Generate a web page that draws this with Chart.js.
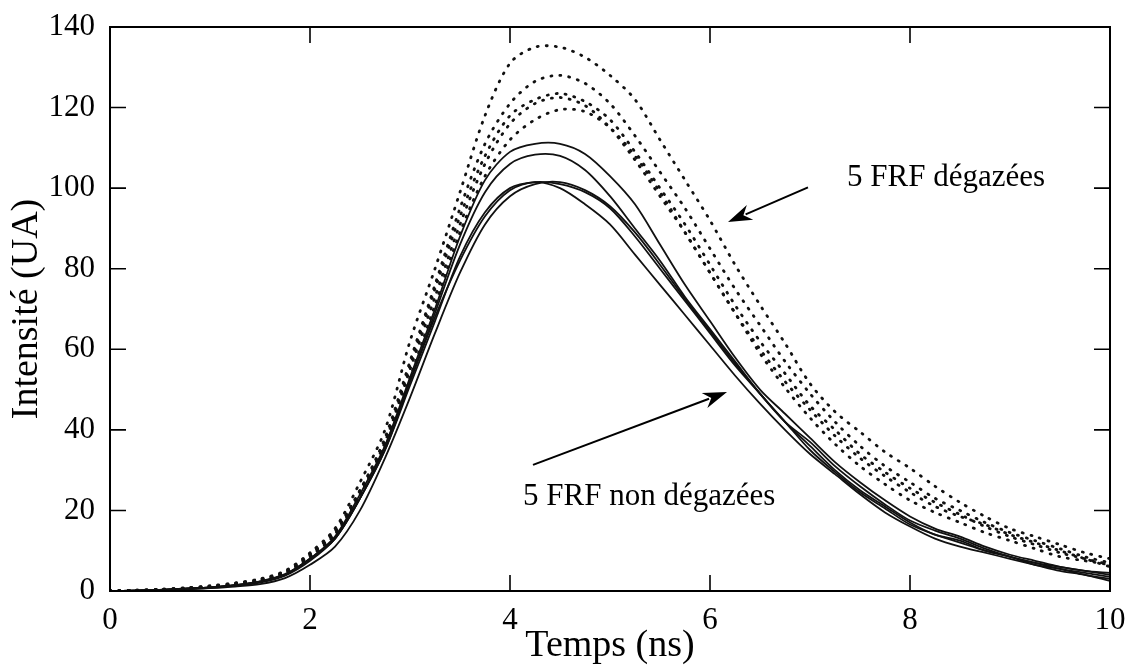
<!DOCTYPE html>
<html>
<head>
<meta charset="utf-8">
<script src="https://cdn.jsdelivr.net/npm/chart.js@4.4.1/dist/chart.umd.min.js"></script>
<style>
  html, body { margin: 0; padding: 0; background: #fff; }
  canvas { display: block; }
</style>
</head>
<body>
<canvas id="c" width="1135" height="669"></canvas>
<script>
/* Intensité vs temps — 5 FRF dégazées (pointillés) / 5 FRF non dégazées (traits pleins) */

// time axis (ns), step 0.25
var TIMES = [0, 0.25, 0.5, 0.75, 1, 1.25, 1.5, 1.75, 2, 2.25, 2.5, 2.75, 3, 3.25, 3.5, 3.75,
  4, 4.25, 4.5, 4.75, 5, 5.25, 5.5, 5.75, 6, 6.25, 6.5, 6.75, 7, 7.25, 7.5, 7.75,
  8, 8.25, 8.5, 8.75, 9, 9.25, 9.5, 9.75, 10];

// dégazées (dotted)
var DEG_1 = [0, 0.2, 0.4, 0.8, 1.3, 2.0, 3.0, 5.0,
  9.5, 15.5, 27, 40, 62, 80, 99, 118, 131, 135, 135, 132.5, 128, 122, 112, 102, 92, 81, 71, 61.5,
  51.5, 44.5, 39.5, 34.5, 30.5, 26, 22, 18.5, 15.5, 13.5, 11.5, 9.5, 8];
var DEG_2 = [0, 0.2, 0.4, 0.7, 1.2, 1.9, 2.9, 4.8,
  9, 15, 25, 38, 57, 76, 95, 111, 121, 126.5, 128, 126, 121, 113, 104, 95, 85, 75, 66, 57,
  49, 42, 36, 31, 27, 23, 20, 17, 14.5, 12.5, 10.5, 8.5, 7];
var DEG_3 = [0, 0.1, 0.3, 0.7, 1.1, 1.8, 2.8, 4.7,
  9, 14.5, 25, 37, 56, 75, 93, 108, 118, 122, 123.5, 121.5, 117, 109, 100, 91, 81, 71, 62, 54,
  46, 40, 34, 29.5, 25.5, 22, 19, 16, 13.5, 11.5, 9.5, 8, 6.5];
var DEG_4 = [0, 0.1, 0.3, 0.6, 1.0, 1.7, 2.7, 4.5,
  8.5, 14, 24, 37, 55, 73, 91, 106, 116, 121, 122.5, 120.5, 115, 107, 98, 89, 79, 69, 60, 52,
  45, 38.5, 33, 28.5, 24.5, 21, 18.5, 16.5, 14, 12, 10, 8, 6];
var DEG_5 = [0, 0.1, 0.3, 0.6, 1.0, 1.6, 2.6, 4.4,
  8.5, 14, 24, 36, 53, 71, 89, 103, 112, 117, 119.5, 119, 115, 108, 99, 89, 79, 69, 59, 50.5,
  43, 36.5, 31, 26.5, 22.5, 19.5, 17, 14.5, 12.5, 10.5, 8.5, 7.5, 6.5];

// non dégazées (solid)
var NON_1 = [0, 0.1, 0.3, 0.6, 0.9, 1.4, 2.3, 4.0,
  8, 13, 23, 36, 53, 70, 88, 102, 109, 111, 111, 108.5, 103, 96, 86, 76, 67, 58, 50, 44,
  38, 32, 27, 22.5, 18.5, 15.5, 13.5, 11, 9, 7.5, 6, 5, 4.5];
var NON_2 = [0, 0.1, 0.3, 0.6, 0.9, 1.4, 2.3, 4.0,
  8, 13, 23, 35, 52, 69, 86, 99, 106, 108.3, 108, 104.5, 98, 90, 82, 73, 65, 57, 49, 42,
  37, 31, 26, 21.5, 17.5, 15, 13, 10.5, 8.5, 7, 6, 5, 4];
var NON_3 = [0, 0.1, 0.2, 0.5, 0.8, 1.3, 2.1, 3.8,
  7.5, 13, 23, 35, 51, 67, 83, 94, 100, 101.5, 101, 99, 95, 88, 80, 72, 64, 56, 49, 42,
  36, 30, 25, 21, 17, 14, 12.5, 10, 8.5, 7, 5.5, 4.5, 3.5];
var NON_4 = [0, 0.1, 0.3, 0.6, 0.9, 1.5, 2.4, 4.2,
  8, 13.5, 24, 36, 52, 68, 82, 93, 99.5, 101.5, 100, 96, 91, 83.5, 76, 68.5, 61, 53.5, 46.5, 40,
  34, 29, 24, 19.5, 16, 13, 11, 9.5, 8, 6.5, 5, 4, 2.5];
var NON_5 = [0, 0.1, 0.2, 0.4, 0.7, 1.1, 1.7, 3.2,
  6.5, 11, 20, 33, 48, 64, 79, 91, 98, 101, 101.5, 99.5, 95.5, 89, 81, 72.5, 64.5, 56.5, 49, 42,
  35, 29.5, 24.5, 20.5, 16.5, 14, 12, 10, 8.5, 6.5, 5.5, 4, 3];

var X_TICKS = [0, 2, 4, 6, 8, 10];
var Y_TICKS = [0, 20, 40, 60, 80, 100, 120, 140];

// annotations, in data units: [x, y]
var NOTE_DEG = { text: '5 FRF dégazées', at: [7.37, 100.5], from: [6.98, 100.2], to: [6.18, 91.6] };
var NOTE_NON = { text: '5 FRF non dégazées', at: [4.13, 21.3], from: [4.23, 31.3], to: [6.17, 49.4] };

var SERIF = '"Liberation Serif", "DejaVu Serif", serif';

function pts(ys) {
  return ys.map(function (y, i) { return { x: TIMES[i], y: y }; });
}

function dotted(ys) {
  return {
    data: pts(ys), borderColor: '#111', borderWidth: 2.8,
    borderDash: [1, 8], borderCapStyle: 'round', pointRadius: 0, tension: 0.3
  };
}
function solid(ys) {
  return { data: pts(ys), borderColor: '#111', borderWidth: 1.8, pointRadius: 0, tension: 0.3 };
}

function arrow(ctx, x1, y1, x2, y2) {
  var ang = Math.atan2(y2 - y1, x2 - x1);
  var hl = 24, hw = 8;
  ctx.beginPath();
  ctx.moveTo(x1, y1);
  ctx.lineTo(x2 - Math.cos(ang) * hl * 0.8, y2 - Math.sin(ang) * hl * 0.8);
  ctx.stroke();
  ctx.beginPath();
  ctx.moveTo(x2, y2);
  ctx.lineTo(x2 - Math.cos(ang) * hl + Math.sin(ang) * hw, y2 - Math.sin(ang) * hl - Math.cos(ang) * hw);
  ctx.lineTo(x2 - Math.cos(ang) * hl * 0.7, y2 - Math.sin(ang) * hl * 0.7);
  ctx.lineTo(x2 - Math.cos(ang) * hl - Math.sin(ang) * hw, y2 - Math.sin(ang) * hl + Math.cos(ang) * hw);
  ctx.closePath();
  ctx.fill();
}

var framePlugin = {
  id: 'frame',
  afterDraw: function (chart) {
    var ctx = chart.ctx, a = chart.chartArea;
    var xs = chart.scales.x, ys = chart.scales.y;
    ctx.save();
    ctx.strokeStyle = '#000';
    ctx.fillStyle = '#000';
    ctx.lineWidth = 2;
    ctx.strokeRect(a.left, a.top, a.right - a.left, a.bottom - a.top);
    var tl = 16;
    ctx.lineWidth = 1.6;
    ctx.beginPath();
    X_TICKS.slice(1, -1).forEach(function (v) {
      var px = xs.getPixelForValue(v);
      ctx.moveTo(px, a.bottom); ctx.lineTo(px, a.bottom - tl);
      ctx.moveTo(px, a.top); ctx.lineTo(px, a.top + tl);
    });
    Y_TICKS.slice(1, -1).forEach(function (v) {
      var py = ys.getPixelForValue(v);
      ctx.moveTo(a.left, py); ctx.lineTo(a.left + tl, py);
      ctx.moveTo(a.right, py); ctx.lineTo(a.right - tl, py);
    });
    ctx.stroke();

    ctx.font = '31px ' + SERIF;
    ctx.textBaseline = 'alphabetic';
    ctx.textAlign = 'left';
    [NOTE_DEG, NOTE_NON].forEach(function (n) {
      ctx.fillText(n.text, xs.getPixelForValue(n.at[0]), ys.getPixelForValue(n.at[1]));
      ctx.lineWidth = 2;
      arrow(ctx, xs.getPixelForValue(n.from[0]), ys.getPixelForValue(n.from[1]),
        xs.getPixelForValue(n.to[0]), ys.getPixelForValue(n.to[1]));
    });
    ctx.restore();
  }
};

new Chart(document.getElementById('c'), {
  type: 'line',
  data: {
    datasets: [
      dotted(DEG_1), dotted(DEG_2), dotted(DEG_3), dotted(DEG_4), dotted(DEG_5),
      solid(NON_1), solid(NON_2), solid(NON_3), solid(NON_4), solid(NON_5)
    ]
  },
  options: {
    responsive: false,
    animation: false,
    layout: { padding: { top: 27, right: 25, bottom: 0, left: 0 } },
    plugins: { legend: { display: false }, tooltip: { enabled: false } },
    scales: {
      x: {
        type: 'linear', min: 0, max: 10,
        afterBuildTicks: function (s) { s.ticks = X_TICKS.map(function (v) { return { value: v }; }); },
        ticks: { padding: 11, color: '#000', font: { family: SERIF, size: 31 } },
        grid: { display: false, drawTicks: false },
        border: { display: false },
        title: { display: true, text: 'Temps (ns)', color: '#000', font: { family: SERIF, size: 38 }, padding: { top: 0, bottom: 0 } },
        afterFit: function (s) { s.height = 78; s.paddingLeft = 0; s.paddingRight = 0; }
      },
      y: {
        type: 'linear', min: 0, max: 140,
        afterBuildTicks: function (s) { s.ticks = Y_TICKS.map(function (v) { return { value: v }; }); },
        ticks: { padding: 15, color: '#000', font: { family: SERIF, size: 31 } },
        grid: { display: false, drawTicks: false },
        border: { display: false },
        title: { display: true, text: 'Intensité (UA)', color: '#000', font: { family: SERIF, size: 38 }, padding: { top: 4, bottom: 0 } },
        afterFit: function (s) { s.width = 110; s.paddingTop = 0; s.paddingBottom = 0; }
      }
    }
  },
  plugins: [framePlugin]
});
</script>
</body>
</html>
